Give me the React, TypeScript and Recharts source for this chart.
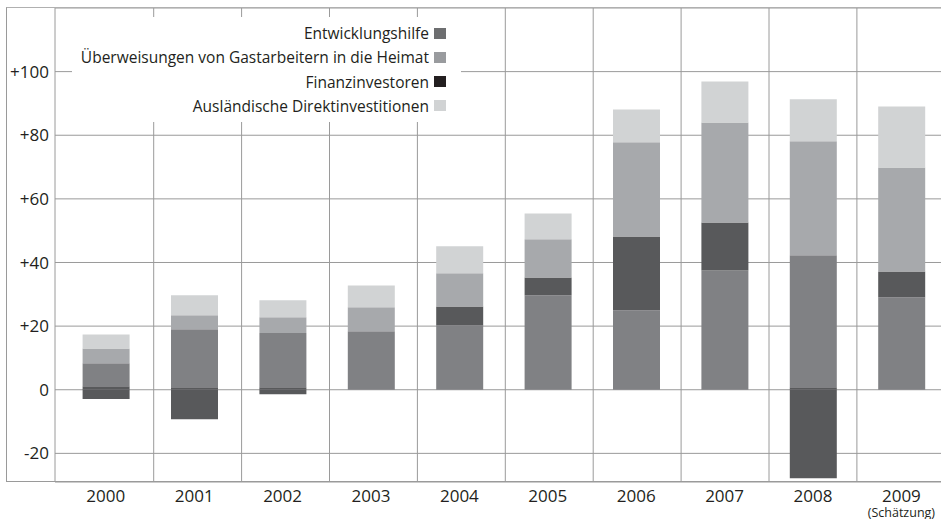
import React from 'react';
import { ComposedChart, Bar, XAxis, YAxis, CartesianGrid } from 'recharts';

const years = ['2000', '2001', '2002', '2003', '2004', '2005', '2006', '2007', '2008', '2009'];
const yTicks = [-20, 0, 20, 40, 60, 80, 100];
const gridSteps = [1, 2, 3, 4, 5, 6, 7, 8, 9];

// stacked from bottom to top
const finanzSockel = [1.1, 0.8, 0.8, 0, 0, 0, 0, 0, 0.8, 0];
const entwicklungshilfe = [7.2, 18.2, 17.0, 18.4, 20.3, 29.7, 25.0, 37.5, 41.5, 29.1];
const finanzinvestoren = [-2.9, -9.3, -1.4, 0, 5.9, 5.6, 23.2, 15.1, -27.8, 8.1];
const ueberweisungen = [4.7, 4.4, 5.0, 7.5, 10.4, 12.0, 29.6, 31.4, 35.8, 32.7];
const direktinvestitionen = [4.4, 6.3, 5.3, 6.9, 8.5, 8.1, 10.3, 12.9, 13.2, 19.1];

const legendItems = [
  { label: 'Entwicklungshilfe', color: '#6d6e70' },
  { label: 'Überweisungen von Gastarbeitern in die Heimat', color: '#999b9e' },
  { label: 'Finanzinvestoren', color: '#231f20' },
  { label: 'Ausländische Direktinvestitionen', color: '#d1d3d4' },
];

const data = years.map((y, i) => ({
  year: y,
  sockel: finanzSockel[i],
  entw: entwicklungshilfe[i],
  finanz: finanzinvestoren[i],
  ueber: ueberweisungen[i],
  direkt: direktinvestitionen[i],
}));

const FONT = '"Open Sans", sans-serif';
const TEXT = '#231f20';
const GRID = '#9a9a9a';

const XTick = (props: any) => {
  const { x, y, payload } = props;
  return (
    <g>
      <text x={x} y={y + 18} textAnchor="middle" fontSize={17} fill={TEXT} fontFamily={FONT}>
        {payload.value}
      </text>
      {payload.value === '2009' && (
        <text x={x} y={y + 33} textAnchor="middle" fontSize={12.5} fill={TEXT} fontFamily={FONT}>
          (Schätzung)
        </text>
      )}
    </g>
  );
};

export default function App() {
  return (
    <div style={{ position: 'absolute', left: 0, top: 0, width: 941, height: 519, overflow: 'hidden', background: '#fff' }}>
      <ComposedChart
        width={950}
        height={519}
        data={data}
        stackOffset="sign"
        margin={{ top: 8, right: 4.4, bottom: 0, left: 0 }}
      >
        <CartesianGrid
          stroke={GRID}
          strokeWidth={1}
          verticalCoordinatesGenerator={({ offset }: any) =>
            gridSteps.map((k) => offset.left + 10.8 + k * 87.9)
          }
        />
        <XAxis
          dataKey="year"
          axisLine={false}
          tickLine={false}
          tickSize={0}
          height={37}
          interval={0}
          padding={{ left: 6.6, right: 0 }}
          tick={<XTick />}
        />
        <YAxis
          type="number"
          domain={[-29, 120]}
          ticks={yTicks}
          width={55}
          tickSize={0}
          tickMargin={6}
          tickLine={false}
          axisLine={{ stroke: GRID }}
          allowDataOverflow
          tickFormatter={(v: number) => (v > 0 ? `+${v}` : `${v}`)}
          tick={{ fontSize: 17, fill: TEXT, fontFamily: FONT }}
        />
        <Bar dataKey="sockel" stackId="a" fill="#58595b" barSize={47} isAnimationActive={false} />
        <Bar dataKey="entw" stackId="a" fill="#808184" barSize={47} isAnimationActive={false} />
        <Bar dataKey="finanz" stackId="a" fill="#58595b" barSize={47} isAnimationActive={false} />
        <Bar dataKey="ueber" stackId="a" fill="#a7a9ac" barSize={47} isAnimationActive={false} />
        <Bar dataKey="direkt" stackId="a" fill="#d1d3d4" barSize={47} isAnimationActive={false} />
      </ComposedChart>
      <svg
        width={941}
        height={519}
        style={{ position: 'absolute', left: 0, top: 0, pointerEvents: 'none' }}
      >
        <line x1={6} y1={7.5} x2={941} y2={7.5} stroke="#b0b0b0" strokeWidth={1} />
        <line x1={6.5} y1={7.5} x2={6.5} y2={482} stroke={GRID} strokeWidth={1} />
        <line x1={6} y1={481.5} x2={941} y2={481.5} stroke={GRID} strokeWidth={1} />
      </svg>
      <div
        style={{
          position: 'absolute',
          left: 72,
          top: 17,
          width: 389,
          height: 105,
          background: '#fff',
        }}
      >
        {legendItems.map((it, i) => (
          <div
            key={it.label}
            style={{
              position: 'absolute',
              right: 15,
              top: 4 + i * 24.3,
              height: 24,
              display: 'flex',
              alignItems: 'center',
              whiteSpace: 'nowrap',
              fontFamily: FONT,
              fontSize: 15.5,
              color: TEXT,
            }}
          >
            <span>{it.label}</span>
            <span
              style={{
                display: 'inline-block',
                width: 12,
                height: 11,
                background: it.color,
                marginLeft: 5,
              }}
            />
          </div>
        ))}
      </div>
    </div>
  );
}
